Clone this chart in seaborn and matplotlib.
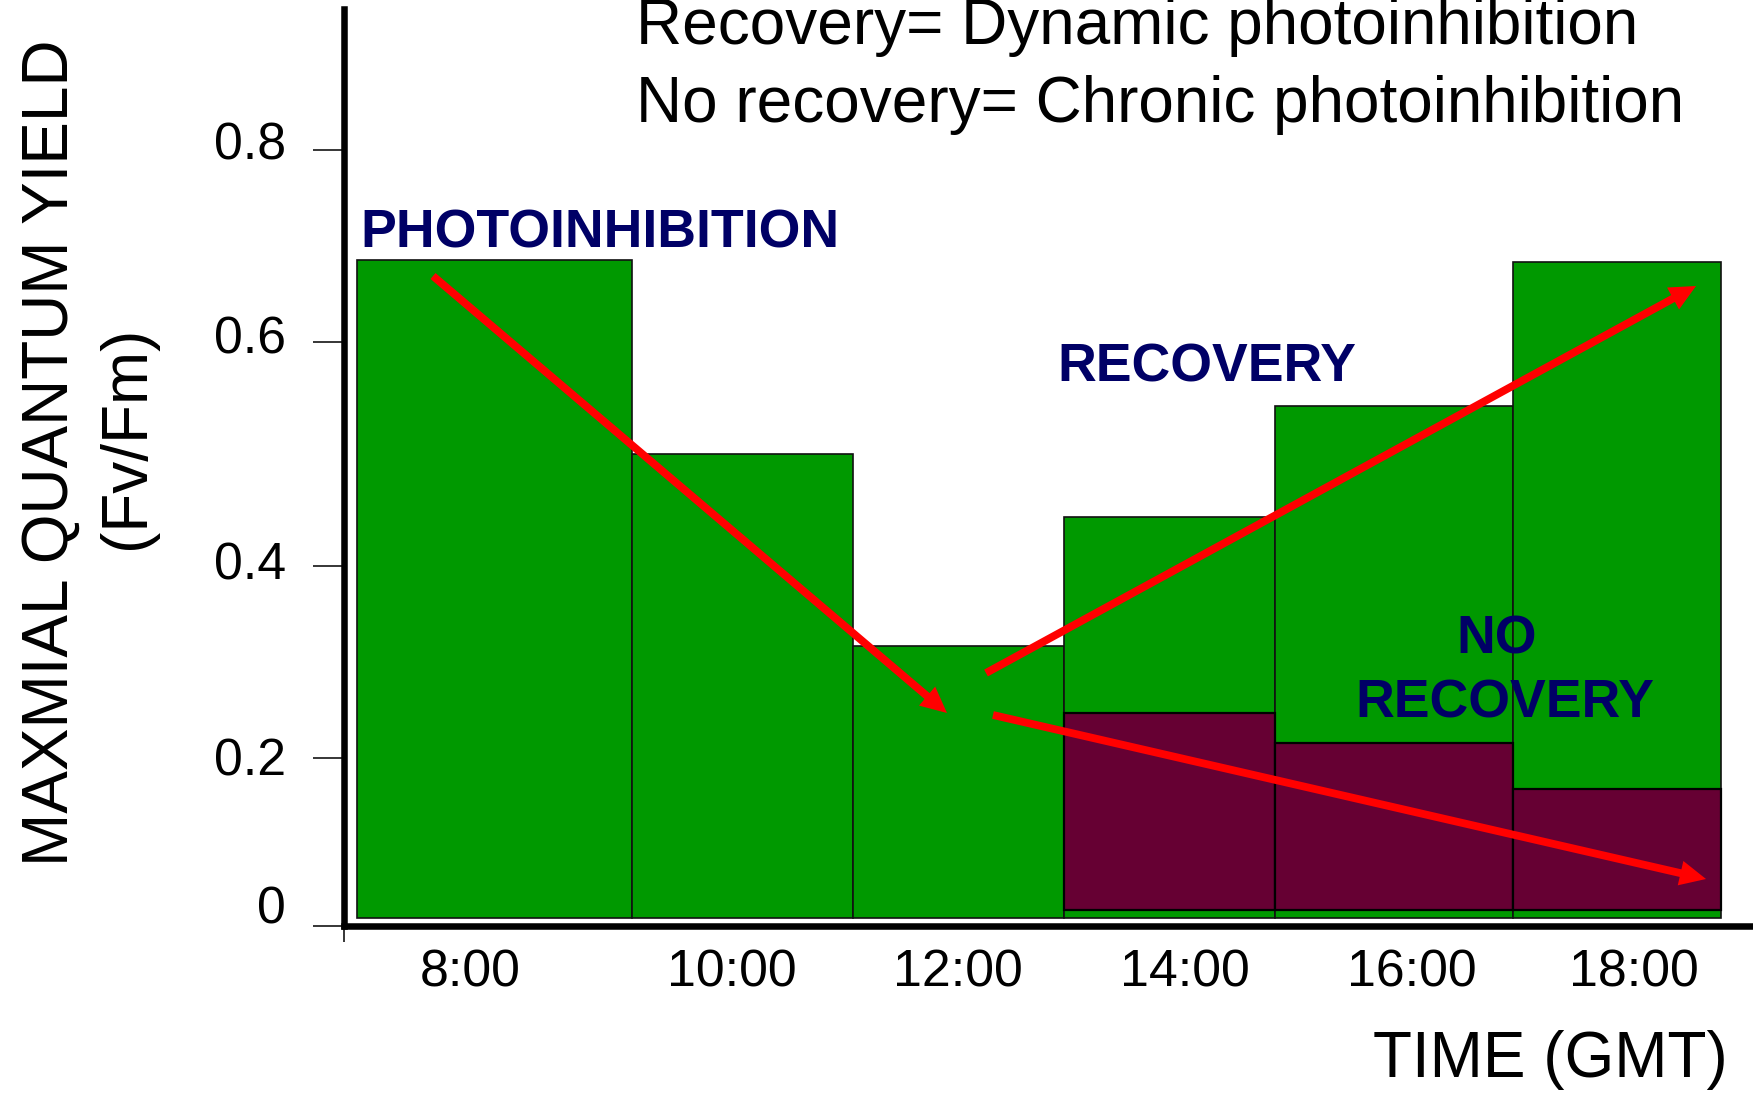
import numpy as np
import pandas as pd
import matplotlib
matplotlib.use("Agg")
import matplotlib.pyplot as plt
from matplotlib.ticker import FixedLocator, NullLocator
from matplotlib.transforms import ScaledTranslation
import seaborn as sns

# ---------------- data ----------------
TIMES = ["8:00", "10:00", "12:00", "14:00", "16:00", "18:00"]
FVFM_RECOVERY = [0.685, 0.500, 0.317, 0.444, 0.543, 0.683]
TIMES_NO_RECOVERY = ["14:00", "16:00", "18:00"]
FVFM_NO_RECOVERY = [0.247, 0.216, 0.163]
Y_TICKS = [0, 0.2, 0.4, 0.6, 0.8]
Y_TICK_LABELS = ["0", "0.2", "0.4", "0.6", "0.8"]

# ---------------- layout (pixels of the 1753x1098 canvas) ----------------
W, H, DPI = 1753, 1098, 100
AX_L, AX_R, AX_T, AX_B = 344, 1750, 9, 926
# the slide's hand-placed axis: bar edges / tick positions in axes pixels
X_EDGE_IDX = [-0.5, 0.5, 1.5, 2.5, 3.5, 4.5, 5.5]
X_EDGE_PX = [13, 288, 509, 720, 931, 1169, 1377]
X_LABEL_PX = [126, 388, 614, 841, 1068, 1290]
Y_TICK_PX = [0, 168, 360, 584, 776]
Y_LABEL_SHIFT_PX = [22, 2, 5, 7, 10]

GREEN = "#009900"
MAROON = "#660033"
NAVY = "#000066"
RED = "#FF0000"


def piecewise(xs, ys):
    xs = np.asarray(xs, float)
    ys = np.asarray(ys, float)
    s0 = (ys[1] - ys[0]) / (xs[1] - xs[0])
    s1 = (ys[-1] - ys[-2]) / (xs[-1] - xs[-2])

    def f(v):
        v = np.asarray(v, dtype=float)
        out = np.interp(v, xs, ys)
        out = np.where(v < xs[0], ys[0] + (v - xs[0]) * s0, out)
        out = np.where(v > xs[-1], ys[-1] + (v - xs[-1]) * s1, out)
        return out
    return f


fx, ifx = piecewise(X_EDGE_IDX, X_EDGE_PX), piecewise(X_EDGE_PX, X_EDGE_IDX)
fy, ify = piecewise(Y_TICKS, Y_TICK_PX), piecewise(Y_TICK_PX, Y_TICKS)

sns.set_theme(style="white")
plt.rcParams["font.family"] = ["Liberation Sans", "DejaVu Sans"]

fig = plt.figure(figsize=(W / DPI, H / DPI), dpi=DPI)
ax = fig.add_axes([AX_L / W, 1 - AX_B / H, (AX_R - AX_L) / W, (AX_B - AX_T) / H])

df_rec = pd.DataFrame({"time": TIMES, "fvfm": FVFM_RECOVERY})
df_no = pd.DataFrame({"time": TIMES_NO_RECOVERY, "fvfm": FVFM_NO_RECOVERY})

sns.barplot(data=df_rec, x="time", y="fvfm", order=TIMES, color=GREEN,
            saturation=1, width=1.0, edgecolor="#111111", linewidth=1.2,
            errorbar=None, ax=ax)
n_green = len(ax.patches)
sns.barplot(data=df_no, x="time", y="fvfm", order=TIMES, color=MAROON,
            saturation=1, width=1.0, edgecolor="#000000", linewidth=1.6,
            errorbar=None, ax=ax)

# bars float slightly above the axis line as on the slide
for i, p in enumerate(ax.patches):
    b = 0.010 if i < n_green else 0.019
    top = p.get_y() + p.get_height()
    p.set_y(b)
    p.set_height(top - b)

ax.set_xscale("function", functions=(fx, ifx))
ax.set_yscale("function", functions=(fy, ify))
ax.set_xlim(float(ifx(0)), float(ifx(AX_R - AX_L)))
ax.set_ylim(0, float(ify(AX_B - AX_T)))

ax.yaxis.set_major_locator(FixedLocator(Y_TICKS))
ax.set_yticklabels(Y_TICK_LABELS)
ax.yaxis.set_minor_locator(NullLocator())
ax.xaxis.set_major_locator(FixedLocator(list(ifx(X_LABEL_PX))))
ax.set_xticklabels(TIMES)
ax.xaxis.set_minor_locator(FixedLocator([float(ifx(0))]))

ax.tick_params(axis="y", which="major", left=True, direction="out", length=22,
               width=1.1, pad=20, labelsize=37.4, color="black", labelcolor="black")
ax.tick_params(axis="x", which="major", bottom=True, length=0, pad=16,
               labelsize=37.4, labelcolor="black")
ax.tick_params(axis="x", which="minor", bottom=True, direction="out", length=11.5,
               width=1.1, color="black")
ax.set_xlabel("")
ax.set_ylabel("")
for s in ["top", "right"]:
    ax.spines[s].set_visible(False)
for s in ["left", "bottom"]:
    ax.spines[s].set_visible(True)
    ax.spines[s].set_linewidth(4.7)
    ax.spines[s].set_color("black")
ax.grid(False)

# the slide's y labels sit a little above their tick marks
for lab, dy in zip(ax.get_yticklabels(), Y_LABEL_SHIFT_PX):
    lab.set_transform(lab.get_transform() +
                      ScaledTranslation(0, dy / DPI, fig.dpi_scale_trans))


def fig_xy(px, py):
    return px / W, 1 - py / H


# axis titles
fig.text(*fig_xy(68, 453), "MAXMIAL QUANTUM YIELD", rotation=90, rotation_mode="anchor",
         ha="center", va="baseline", fontsize=46, color="black")
fig.text(*fig_xy(144, 437), "(Fv/Fm)", rotation=90, rotation_mode="anchor",
         ha="center", va="baseline", fontsize=46, color="black")
fig.text(*fig_xy(1728, 1077), "TIME (GMT)", ha="right", va="baseline",
         fontsize=46, color="black")

# notes at top
fig.text(*fig_xy(636, 44), "Recovery= Dynamic photoinhibition", ha="left",
         va="baseline", fontsize=46, color="black")
fig.text(*fig_xy(636, 122), "No recovery= Chronic photoinhibition", ha="left",
         va="baseline", fontsize=46, color="black")

# bold labels
bold = dict(fontsize=38.6, fontweight="bold", color=NAVY, va="baseline")
fig.text(*fig_xy(360, 247), "PHOTOINHIBITION", ha="left", **bold)
fig.text(*fig_xy(1057, 382), "RECOVERY", ha="left", **bold)
fig.text(*fig_xy(1497, 653), "NO", ha="center", **bold)
fig.text(*fig_xy(1505, 718), "RECOVERY", ha="center", **bold)

# trend arrows
arrows = [((433, 276), (947, 713)),
          ((986, 673), (1696, 286)),
          ((993, 715), (1706, 879))]
for (x0, y0), (x1, y1) in arrows:
    ax.annotate("", xy=(x1, H - y1), xycoords="figure pixels",
                xytext=(x0, H - y0), textcoords="figure pixels",
                arrowprops=dict(arrowstyle="simple,head_length=0.47,head_width=0.45,tail_width=0.14",
                                mutation_scale=40, color=RED, lw=0,
                                shrinkA=0, shrinkB=0))

fig.savefig("out.png", dpi=DPI)
